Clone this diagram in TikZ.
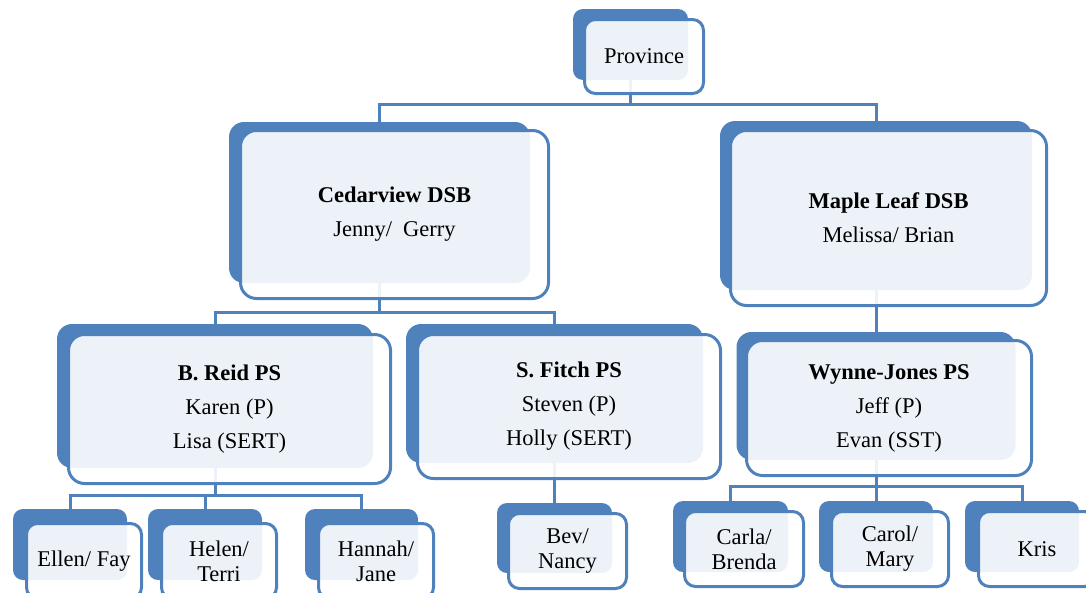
\documentclass[tikz,border=0pt]{standalone}
\usepackage{fontspec}
\setmainfont{Liberation Serif}
\usepackage{tikz}
\definecolor{orgblue}{HTML}{4F81BD}

\begin{document}
\begin{tikzpicture}[x=1pt, y=-1pt]
    \tikzstyle{back}=[rectangle, rounded corners=15pt, fill=orgblue, inner sep=0pt]
    \tikzstyle{front}=[rectangle, rounded corners=16pt, draw=orgblue, line width=3pt, fill=white, fill opacity=0.9, text opacity=1, align=center, inner sep=0pt, font=\fontsize{22.5}{34}\selectfont]
    \tikzstyle{leafback}=[back, rounded corners=10pt]
    \tikzstyle{leaffront}=[front, rounded corners=11pt, font=\fontsize{22.5}{25}\selectfont]
    \tikzstyle{link}=[draw=orgblue, line width=3pt]

    \clip (0,0) rectangle (1086,592);

    % back boxes
    \node[leafback, minimum width=115, minimum height=71] (province-b) at (630.5,44.5) {};
    \node[back, minimum width=301, minimum height=161] (cedar-b) at (379.5,202.5) {};
    \node[back, minimum width=312, minimum height=169] (maple-b) at (876,205.5) {};
    \node[back, minimum width=316, minimum height=144] (reid-b) at (215,396) {};
    \node[back, minimum width=297, minimum height=139] (fitch-b) at (554.5,393.5) {};
    \node[back, minimum width=279, minimum height=128] (wynne-b) at (876,396) {};
    \node[leafback, minimum width=114, minimum height=71] (ellen-b) at (70,544.5) {};
    \node[leafback, minimum width=114, minimum height=71] (helen-b) at (205,544.5) {};
    \node[leafback, minimum width=113, minimum height=71] (hannah-b) at (361.5,544.5) {};
    \node[leafback, minimum width=115, minimum height=70] (bev-b) at (554.5,538) {};
    \node[leafback, minimum width=115, minimum height=71] (carla-b) at (730.5,536.5) {};
    \node[leafback, minimum width=114, minimum height=71] (carol-b) at (876,536.5) {};
    \node[leafback, minimum width=114, minimum height=71] (kris-b) at (1022,536.5) {};

    % connectors
    \draw[link] (province-b.south) -- ++(0,24.5) -| (cedar-b.north);
    \draw[link] (province-b.south) -- ++(0,24.5) -| (maple-b.north);
    \draw[link] (cedar-b.south) -- ++(0,29) -| (reid-b.north);
    \draw[link] (cedar-b.south) -- ++(0,29) -| (fitch-b.north);
    \draw[link] (maple-b.south) -- (wynne-b.north);
    \draw[link] (reid-b.south) -- ++(0,27) -| (ellen-b.north);
    \draw[link] (reid-b.south) -- ++(0,27) -| (helen-b.north);
    \draw[link] (reid-b.south) -- ++(0,27) -| (hannah-b.north);
    \draw[link] (fitch-b.south) -- (bev-b.north);
    \draw[link] (wynne-b.south) -- ++(0,26) -| (carla-b.north);
    \draw[link] (wynne-b.south) -- ++(0,26) -| (carol-b.north);
    \draw[link] (wynne-b.south) -- ++(0,26) -| (kris-b.north);

    % front boxes
    \node[leaffront, minimum width=119, minimum height=74] (province) at (644,56.5) {Province};
    \node[front, minimum width=308, minimum height=168] (cedar) at (394.5,214.5) {\textbf{Cedarview DSB}\\Jenny/\ \ Gerry};
    \node[front, minimum width=316, minimum height=175] (maple) at (888.5,218) {\textbf{Maple Leaf DSB}\\Melissa/ Brian};
    \node[front, minimum width=322, minimum height=149] (reid) at (229.5,409) {\textbf{B. Reid PS}\\Karen (P)\\Lisa (SERT)};
    \node[front, minimum width=303, minimum height=144] (fitch) at (569,406.5) {\textbf{S. Fitch PS}\\Steven (P)\\Holly (SERT)};
    \node[front, minimum width=285, minimum height=135] (wynne) at (889,408) {\textbf{Wynne-Jones PS}\\Jeff (P)\\Evan (SST)};
    \node[leaffront, minimum width=115, minimum height=75] (ellen) at (84,561) {Ellen/ Fay};
    \node[leaffront, minimum width=115, minimum height=75] (helen) at (219,561) {Helen/\\Terri};
    \node[leaffront, minimum width=115, minimum height=75] (hannah) at (376,561) {Hannah/\\Jane};
    \node[leaffront, minimum width=118, minimum height=75] (bev) at (567.5,551) {Bev/\\Nancy};
    \node[leaffront, minimum width=119, minimum height=75] (carla) at (744,549) {Carla/\\Brenda};
    \node[leaffront, minimum width=117, minimum height=75] (carol) at (890,549) {Carol/\\Mary};
    \node[leaffront, minimum width=117, minimum height=75] (kris) at (1037,549) {Kris};

  \end{tikzpicture}
\end{document}
